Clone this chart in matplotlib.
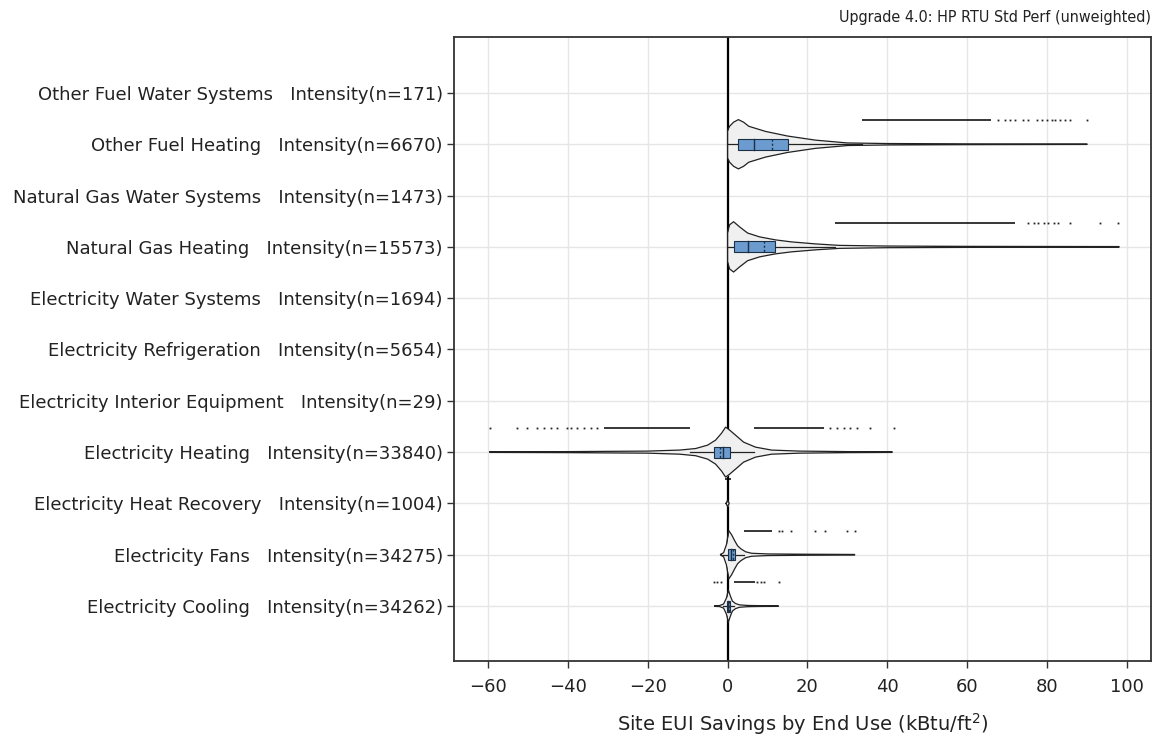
import numpy as np
import matplotlib
matplotlib.use("Agg")
import matplotlib.pyplot as plt

# --- categorias (de arriba hacia abajo) ---
labels = [
    "Other Fuel Water Systems   Intensity(n=171)",
    "Other Fuel Heating   Intensity(n=6670)",
    "Natural Gas Water Systems   Intensity(n=1473)",
    "Natural Gas Heating   Intensity(n=15573)",
    "Electricity Water Systems   Intensity(n=1694)",
    "Electricity Refrigeration   Intensity(n=5654)",
    "Electricity Interior Equipment   Intensity(n=29)",
    "Electricity Heating   Intensity(n=33840)",
    "Electricity Heat Recovery   Intensity(n=1004)",
    "Electricity Fans   Intensity(n=34275)",
    "Electricity Cooling   Intensity(n=34262)",
]

# --- perfiles de violin: valor -> media anchura (en unidades de categoria) ---
ofh_x = [0, 0.5, 1.5, 2.7, 4, 5.3, 9.5, 15, 22, 30, 40, 60, 90]
ofh_w = [0.27, 0.35, 0.43, 0.48, 0.43, 0.35, 0.25, 0.16, 0.08, 0.025, 0.014, 0.008, 0.004]

ngh_x = [0, 0.5, 1.5, 3, 5, 8, 12, 16, 22, 28, 40, 60, 98]
ngh_w = [0.29, 0.43, 0.49, 0.39, 0.27, 0.195, 0.136, 0.097, 0.058, 0.029, 0.016, 0.01, 0.006]

eh_x = [-59.5, -40, -20, -12, -8, -5, -3, -1.5, -0.5, 0.5, 2, 4, 7, 11, 18, 30, 41.2]
eh_w = [0.006, 0.01, 0.02, 0.04, 0.07, 0.136, 0.234, 0.37, 0.487, 0.43, 0.33, 0.195, 0.097, 0.04, 0.02, 0.01, 0.006]

hr_x = [-0.4, 0, 0.4]
hr_w = [0.0, 0.06, 0.0]

fan_x = [-1.75, -1, -0.3, 0.3, 1, 1.8, 2.5, 3.3, 4.5, 6, 10, 20, 31.8]
fan_w = [0.006, 0.04, 0.195, 0.47, 0.39, 0.27, 0.175, 0.117, 0.058, 0.029, 0.016, 0.01, 0.006]

cool_x = [-3.2, -2, -1, -0.3, 0.2, 0.7, 1.2, 2, 3, 5, 8, 12.7]
cool_w = [0.006, 0.01, 0.04, 0.156, 0.31, 0.195, 0.097, 0.049, 0.023, 0.012, 0.008, 0.006]

# --- cajas: q1, mediana, media, q3, bigote inf, bigote sup ---
ofh_box = [2.5, 6.5, 11, 15, 0, 33.75]
ngh_box = [1.5, 5, 9, 11.75, 0, 27]
eh_box = [-3.4, -1.2, -1.9, 0.6, -9.4, 6.6]
fan_box = [0.1, 0.9, 1.3, 1.8, -1.75, 4.1]
cool_box = [-0.1, 0.2, 0.3, 0.6, -1.15, 1.6]

# --- atipicos: tramos densos y puntos sueltos ---
ofh_runs = [(33.75, 66)]
ofh_pts = [67.8, 69.5, 70.8, 72, 74, 75.3, 77.5, 78.8, 80, 81.3, 82, 83.3, 84.5, 85.8, 90]
ngh_runs = [(27, 72)]
ngh_pts = [75.3, 76.6, 77.8, 79.1, 80.3, 81.6, 82.8, 85.8, 93.3, 97.8]
eh_runs = [(-30.9, -9.4), (6.6, 24.1)]
eh_pts = [-59.4, -52.6, -50.1, -47.6, -45.9, -44.3, -42.6, -40.1, -39.3, -37.6, -35.9,
          -34.3, -32.6, 25.75, 27.4, 29.1, 30.75, 32.4, 35.75, 41.6]
hr_runs = [(-0.75, 0.75)]
hr_pts = []
fan_runs = [(4.1, 11.2)]
fan_pts = [12.8, 13.7, 15.75, 22, 24.5, 29.9, 32]
cool_runs = [(1.6, 6.75)]
cool_pts = [-3.4, -2.6, -1.75, 7.4, 8.25, 9.1, 12.8]

# indice de categoria -> datos
violins = {
    1: (ofh_x, ofh_w, ofh_box, ofh_runs, ofh_pts),
    3: (ngh_x, ngh_w, ngh_box, ngh_runs, ngh_pts),
    7: (eh_x, eh_w, eh_box, eh_runs, eh_pts),
    8: (hr_x, hr_w, None, hr_runs, hr_pts),
    9: (fan_x, fan_w, fan_box, fan_runs, fan_pts),
    10: (cool_x, cool_w, cool_box, cool_runs, cool_pts),
}

title = "Upgrade 4.0: HP RTU Std Perf (unweighted)"
xlabel = "Site EUI Savings by End Use (kBtu/ft$^2$)"

# estilos
violin_fill = "#f0f0f0"
violin_edge = "#222222"
box_fill = "#6b9bcf"
box_edge = "#1d2f45"
grid_col = "#e6e6e6"
pt_offset = -0.47   # fila de puntos por encima del violin
box_h = 0.107

fig = plt.figure(figsize=(11.56, 7.40), dpi=100)
ax = fig.add_axes([0.3927, 0.1068, 0.603, 0.8432])

ax.axvline(0, color="black", lw=1.6, zorder=1)

for i, (vx, vw, bx, runs, pts) in violins.items():
    vx = np.array(vx)
    vw = np.array(vw)
    ax.fill_between(vx, i - vw, i + vw, color=violin_fill, lw=0, zorder=2)
    ox = np.concatenate([vx, vx[::-1], vx[:1]])
    oy = np.concatenate([i - vw, (i + vw)[::-1], [i - vw[0]]])
    ax.plot(ox, oy, color=violin_edge, lw=0.9, zorder=3)
    if bx is not None:
        q1, med, mean, q3, lo, hi = bx
        ax.plot([lo, hi], [i, i], color=violin_edge, lw=0.9, zorder=3)
        ax.add_patch(plt.Rectangle((q1, i - box_h), q3 - q1, 2 * box_h,
                                   facecolor=box_fill, edgecolor=box_edge, lw=0.8, zorder=4))
        ax.plot([med, med], [i - box_h, i + box_h], color=box_edge, lw=1.0, zorder=5)
        ax.plot([mean, mean], [i - box_h, i + box_h], color=box_edge, lw=1.0,
                ls=(0, (1.5, 1.5)), zorder=5)
    for a, b in runs:
        ax.plot([a, b], [i + pt_offset, i + pt_offset], color="black", lw=1.1,
                solid_capstyle="butt", zorder=3)
    if pts:
        ax.plot(pts, [i + pt_offset] * len(pts), ls="none", marker="s", ms=1.3,
                mec="none", color="#222222", zorder=3)

ax.set_yticks(range(len(labels)))
ax.set_yticklabels(labels)
ax.set_ylim(len(labels) - 1 + 1.07, -1.09)
ax.set_xlim(-68.5, 106)
ax.set_xticks(np.arange(-60, 101, 20))
ax.set_xticklabels([f"\u2212{abs(v)}" if v < 0 else str(v) for v in range(-60, 101, 20)])

ax.grid(True, color=grid_col, lw=1.0, zorder=0)
ax.set_axisbelow(True)
for s in ax.spines.values():
    s.set_color("#333333")
    s.set_linewidth(1.3)
ax.tick_params(axis="both", direction="out", length=5, width=1, color="#333333",
               labelsize=13, labelcolor="#222222", pad=3)
ax.tick_params(axis="x", pad=7)

ax.set_xlabel(xlabel, fontsize=14, color="#222222", labelpad=11)
fig.text(0.9957, 0.976, title, ha="right", va="center", fontsize=11.5,
         fontstretch="condensed", color="#222222")

fig.savefig("out.png", dpi=100)
